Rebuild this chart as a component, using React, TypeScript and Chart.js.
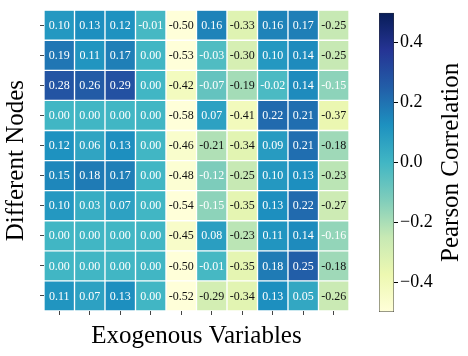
import React, { useEffect, useRef } from 'react';
import { Chart, registerables } from 'chart.js';

Chart.register(...registerables);

const FONT = "'Liberation Serif', 'Times New Roman', serif";

const nodes = ['N1', 'N2', 'N3', 'N4', 'N5', 'N6', 'N7', 'N8', 'N9', 'N10'];
const variables = ['V1', 'V2', 'V3', 'V4', 'V5', 'V6', 'V7', 'V8', 'V9', 'V10'];

const node1 = [0.10, 0.13, 0.12, -0.01, -0.50, 0.16, -0.33, 0.16, 0.17, -0.25];
const node2 = [0.19, 0.11, 0.17, 0.00, -0.53, -0.03, -0.30, 0.10, 0.14, -0.25];
const node3 = [0.28, 0.26, 0.29, 0.00, -0.42, -0.07, -0.19, -0.02, 0.14, -0.15];
const node4 = [0.00, 0.00, 0.00, 0.00, -0.58, 0.07, -0.41, 0.22, 0.21, -0.37];
const node5 = [0.12, 0.06, 0.13, 0.00, -0.46, -0.21, -0.34, 0.09, 0.21, -0.18];
const node6 = [0.15, 0.18, 0.17, 0.00, -0.48, -0.12, -0.25, 0.10, 0.13, -0.23];
const node7 = [0.10, 0.03, 0.07, 0.00, -0.54, -0.15, -0.35, 0.13, 0.22, -0.27];
const node8 = [0.00, 0.00, 0.00, 0.00, -0.45, 0.08, -0.23, 0.11, 0.14, -0.16];
const node9 = [0.00, 0.00, 0.00, 0.00, -0.50, -0.01, -0.35, 0.18, 0.25, -0.18];
const node10 = [0.11, 0.07, 0.13, 0.00, -0.52, -0.29, -0.34, 0.13, 0.05, -0.26];

const values = [node1, node2, node3, node4, node5, node6, node7, node8, node9, node10];

const colorbarTicks = [-0.4, -0.2, 0.0, 0.2, 0.4];
const vmin = -0.5;
const vmax = 0.5;

const YLGNBU = ['#ffffd9', '#edf8b1', '#c7e9b4', '#7fcdbb', '#41b6c4', '#1d91c0', '#225ea8', '#253494', '#081d58'];

function hexToRgb(h: string) {
  return [parseInt(h.slice(1, 3), 16), parseInt(h.slice(3, 5), 16), parseInt(h.slice(5, 7), 16)];
}
const STOPS = YLGNBU.map(hexToRgb);

function cmap(v: number) {
  let t = (v - vmin) / (vmax - vmin);
  t = Math.max(0, Math.min(1, t));
  const s = t * (STOPS.length - 1);
  const i = Math.min(Math.floor(s), STOPS.length - 2);
  const f = s - i;
  const a = STOPS[i];
  const b = STOPS[i + 1];
  const c = a.map((x, k) => Math.round(x + (b[k] - x) * f));
  return `rgb(${c[0]},${c[1]},${c[2]})`;
}

function textColor(v: number) {
  return v > -0.175 ? '#ffffff' : '#111111';
}

const labelPlugin = {
  id: 'cellLabels',
  afterDatasetsDraw(chart: any) {
    const ctx = chart.ctx;
    ctx.save();
    ctx.font = `12px ${FONT}`;
    ctx.textAlign = 'center';
    ctx.textBaseline = 'middle';
    values.forEach((row, i) => {
      const meta = chart.getDatasetMeta(i);
      meta.data.forEach((bar: any, j: number) => {
        const { x, y, base } = bar.getProps(['x', 'y', 'base'], true);
        const v = row[j];
        ctx.fillStyle = textColor(v);
        ctx.fillText(v.toFixed(2), x, (y + base) / 2 + 0.5);
      });
    });
    ctx.restore();
  },
};

const cbTitlePlugin = {
  id: 'cbTitle',
  afterDraw(chart: any) {
    const ctx = chart.ctx;
    const ys = chart.scales.y;
    ctx.save();
    ctx.translate(ys.right - 17, (ys.top + ys.bottom) / 2);
    ctx.rotate(-Math.PI / 2);
    ctx.font = `25px ${FONT}`;
    ctx.fillStyle = '#000';
    ctx.textAlign = 'center';
    ctx.textBaseline = 'middle';
    ctx.fillText('Pearson Correlation', 0, 0);
    ctx.restore();
  },
};

export default function App() {
  const mainRef = useRef<HTMLCanvasElement>(null);
  const cbRef = useRef<HTMLCanvasElement>(null);

  useEffect(() => {
    const tickGrid = {
      display: true,
      drawOnChartArea: false,
      drawTicks: true,
      tickLength: 4,
      color: '#444',
      lineWidth: 1,
    };

    const main = new Chart(mainRef.current!, {
      type: 'bar',
      data: {
        labels: variables,
        datasets: values.map((row, i) => ({
          label: nodes[i],
          data: row.map(() => 1),
          backgroundColor: row.map(cmap),
          borderColor: '#ffffff',
          borderWidth: 1,
          borderSkipped: false,
          barPercentage: 1,
          categoryPercentage: 1,
        })),
      },
      options: {
        responsive: false,
        animation: false,
        devicePixelRatio: 1,
        layout: { padding: { top: 6, right: 11, left: 0, bottom: 0 } },
        plugins: { legend: { display: false }, tooltip: { enabled: false } },
        scales: {
          x: {
            stacked: true,
            offset: true,
            grid: { ...tickGrid, offset: false },
            border: { display: false },
            ticks: { callback: () => '' },
            title: {
              display: true,
              text: 'Exogenous Variables',
              color: '#000',
              font: { family: FONT, size: 25 },
              padding: { top: 0, bottom: 5 },
            },
            afterFit: (s: any) => { s.height = 45; },
          },
          y: {
            type: 'linear',
            stacked: true,
            min: 0,
            max: nodes.length,
            reverse: true,
            afterBuildTicks: (s: any) => { s.ticks = nodes.map((_, i) => ({ value: i + 0.5 })); },
            grid: tickGrid,
            border: { display: false },
            ticks: { callback: () => '' },
            title: {
              display: true,
              text: 'Different Nodes',
              color: '#000',
              font: { family: FONT, size: 25 },
              padding: { top: 1, bottom: 0 },
            },
            afterFit: (s: any) => { s.width = 44; },
          },
        },
      } as any,
      plugins: [labelPlugin],
    });

    const cb = new Chart(cbRef.current!, {
      type: 'bar',
      data: {
        labels: ['Pearson Correlation'],
        datasets: [{
          data: [[vmin, vmax]] as any,
          backgroundColor: (c: any) => {
            const ch = c.chart;
            const area = ch.chartArea;
            if (!area || !isFinite(area.top) || !isFinite(area.bottom) || area.bottom <= area.top) return '#41b6c4';
            const g = ch.ctx.createLinearGradient(0, area.bottom, 0, area.top);
            YLGNBU.forEach((col, k) => g.addColorStop(k / (YLGNBU.length - 1), col));
            return g;
          },
          borderColor: '#333',
          borderWidth: 0.8,
          borderSkipped: false,
          barPercentage: 1,
          categoryPercentage: 1,
        }],
      },
      options: {
        responsive: false,
        animation: false,
        devicePixelRatio: 1,
        layout: { padding: { top: 6, bottom: 44, left: 19, right: 0 } },
        plugins: { legend: { display: false }, tooltip: { enabled: false } },
        scales: {
          x: { display: false },
          y: {
            position: 'right',
            min: vmin,
            max: vmax,
            afterBuildTicks: (s: any) => { s.ticks = colorbarTicks.map((v) => ({ value: v })); },
            ticks: {
              color: '#000',
              padding: 2,
              font: { family: FONT, size: 18 },
              callback: (v: any) => {
                const n = Number(v);
                const str = Math.abs(n).toFixed(1);
                return n < -1e-9 ? '\u2212' + str : str;
              },
            },
            grid: { ...tickGrid, color: '#000' },
            border: { display: false },
            afterFit: (s: any) => { s.width = 74; },
          },
        },
      } as any,
      plugins: [cbTitlePlugin],
    });

    return () => {
      main.destroy();
      cb.destroy();
    };
  }, []);

  return (
    <div style={{ position: 'absolute', left: 0, top: 0, width: 468, height: 356, background: '#fff' }}>
      <canvas ref={mainRef} width={360} height={356} style={{ position: 'absolute', left: 0, top: 0 }} />
      <canvas ref={cbRef} width={108} height={356} style={{ position: 'absolute', left: 360, top: 0 }} />
    </div>
  );
}
